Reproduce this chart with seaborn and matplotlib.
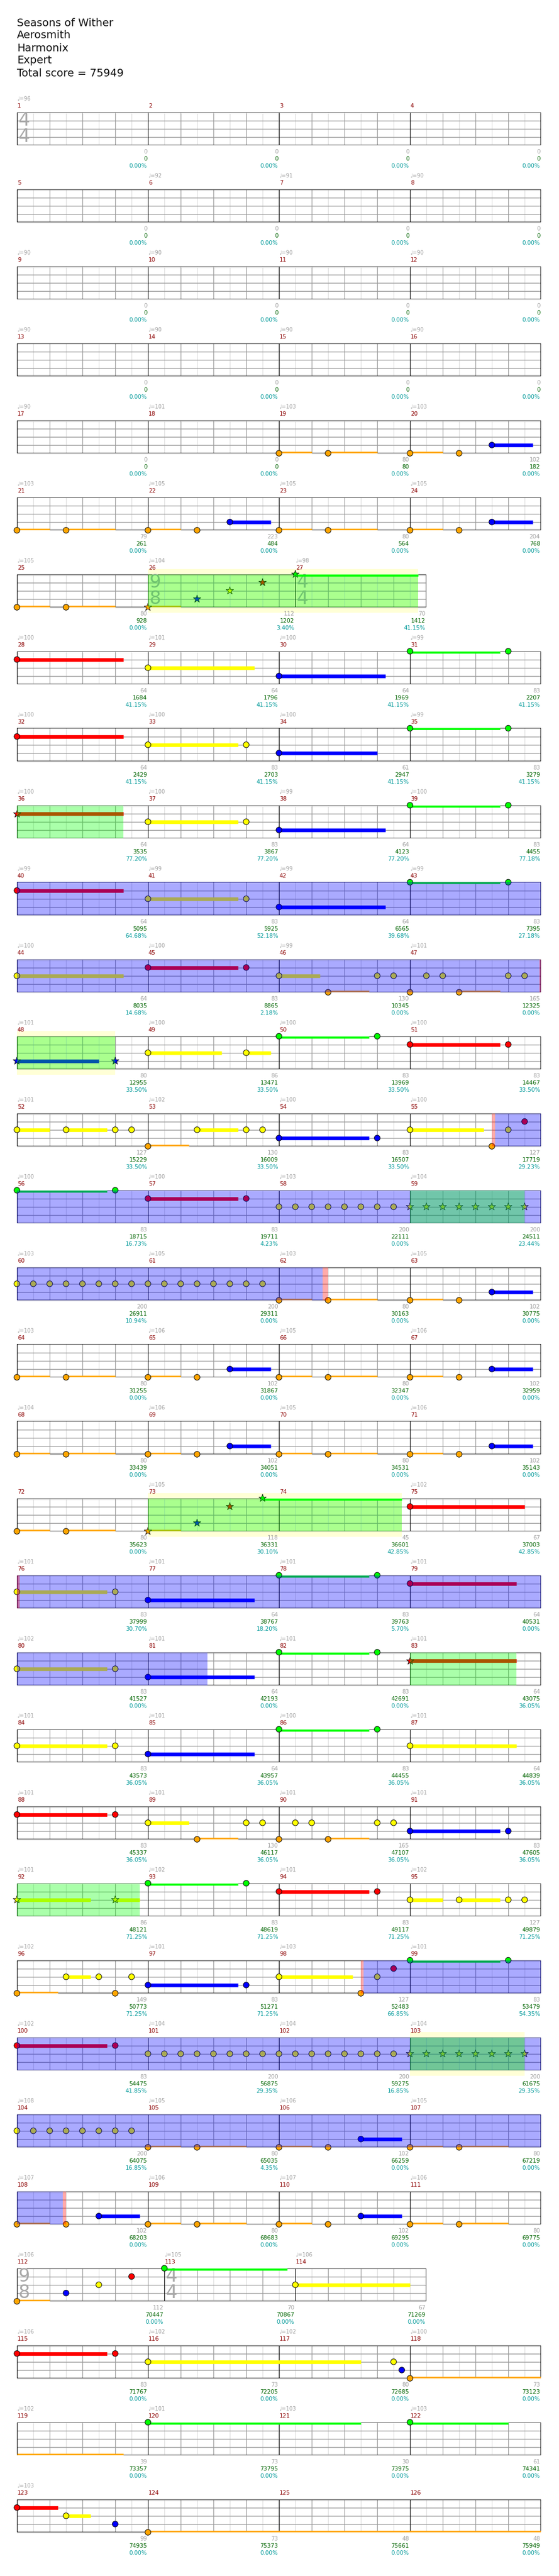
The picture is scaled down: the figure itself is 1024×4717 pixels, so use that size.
import matplotlib
matplotlib.use("Agg")
import matplotlib.pyplot as plt
import matplotlib.transforms as mtrans
from matplotlib.patches import Rectangle
import numpy as np
import pandas as pd
import seaborn as sns

sns.set_theme(style="white")
plt.rcParams["font.family"] = ["DejaVu Sans"]

# ---------------- data ----------------
title_lines = ["Seasons of Wither", "Aerosmith", "Harmonix", "Expert", "Total score = 75949"]

n_measures = 126
odd_measure_len = {26: 9, 112: 9}  # eighth notes per measure (default 8)
row_first = [1, 5, 9, 13, 17, 21, 25, 28, 32, 36, 40, 44, 48, 52, 56, 60, 64, 68, 72, 76,
             80, 84, 88, 92, 96, 100, 104, 108, 112, 115, 119, 123]
time_signatures = {1: ("4", "4"), 26: ("9", "8"), 27: ("4", "4"), 112: ("9", "8"), 113: ("4", "4")}

tempo = {1: 96, 6: 92, 7: 91, 8: 90, 9: 90, 10: 90, 11: 90, 12: 90, 13: 90, 14: 90, 15: 90, 16: 90,
         17: 90, 18: 101, 19: 103, 20: 103, 21: 103, 22: 105, 23: 105, 24: 105, 25: 105, 26: 104,
         27: 98, 28: 100, 29: 101, 30: 100, 31: 99, 32: 100, 33: 100, 34: 100, 35: 99, 36: 100,
         37: 100, 38: 99, 39: 100, 40: 99, 41: 99, 42: 99, 43: 99, 44: 100, 45: 100, 46: 99, 47: 101,
         48: 101, 49: 100, 50: 100, 51: 100, 52: 101, 53: 102, 54: 100, 55: 100, 56: 100, 57: 100,
         58: 103, 59: 104, 60: 103, 61: 105, 62: 103, 63: 105, 64: 103, 65: 106, 66: 105, 67: 106,
         68: 104, 69: 106, 70: 105, 71: 106, 73: 105, 75: 102, 76: 101, 77: 101, 78: 101, 79: 101,
         80: 102, 81: 101, 82: 101, 83: 101, 84: 101, 85: 101, 86: 100, 87: 101, 88: 101, 89: 101,
         90: 101, 91: 101, 92: 101, 93: 102, 94: 101, 95: 102, 96: 102, 97: 101, 98: 103, 99: 101,
         100: 102, 101: 104, 102: 104, 103: 104, 104: 108, 105: 105, 106: 106, 107: 105, 108: 107,
         109: 106, 110: 107, 111: 106, 112: 106, 113: 105, 114: 106, 115: 106, 116: 102, 117: 102,
         118: 100, 119: 102, 120: 101, 121: 103, 122: 103, 123: 103}

measure_score = [0, 0, 0, 0, 0, 0, 0, 0, 0, 0, 0, 0, 0, 0, 0, 0,
                 0, 0, 80, 102, 79, 223, 80, 204, 80, 112, 70,
                 64, 64, 64, 83, 64, 83, 61, 83, 64, 83, 64, 83, 64, 83, 64, 83,
                 64, 83, 130, 165, 80, 86, 83, 83, 127, 130, 83, 127, 83, 83, 200, 200,
                 200, 200, 80, 102, 80, 102, 80, 102, 80, 102, 80, 102, 80, 118, 45, 67,
                 83, 64, 83, 64, 83, 64, 83, 64, 83, 64, 83, 64, 83, 130, 165, 83,
                 86, 83, 83, 127, 149, 83, 127, 83, 83, 200, 200, 200, 200, 80, 102, 80,
                 102, 80, 102, 80, 112, 70, 67, 83, 73, 80, 73, 39, 73, 30, 61, 99, 73, 48, 48]
cumulative_score = [0, 0, 0, 0, 0, 0, 0, 0, 0, 0, 0, 0, 0, 0, 0, 0,
                    0, 0, 80, 182, 261, 484, 564, 768, 928, 1202, 1412,
                    1684, 1796, 1969, 2207, 2429, 2703, 2947, 3279, 3535, 3867, 4123, 4455,
                    5095, 5925, 6565, 7395, 8035, 8865, 10345, 12325, 12955, 13471, 13969, 14467,
                    15229, 16009, 16507, 17719, 18715, 19711, 22111, 24511, 26911, 29311, 30163, 30775,
                    31255, 31867, 32347, 32959, 33439, 34051, 34531, 35143, 35623, 36331, 36601, 37003,
                    37999, 38767, 39763, 40531, 41527, 42193, 42691, 43075, 43573, 43957, 44455, 44839,
                    45337, 46117, 47107, 47605, 48121, 48619, 49117, 49879, 50773, 51271, 52483, 53479,
                    54475, 56875, 59275, 61675, 64075, 65035, 66259, 67219, 68203, 68683, 69295, 69775,
                    70447, 70867, 71269, 71767, 72205, 72685, 73123, 73357, 73795, 73975, 74341,
                    74935, 75373, 75661, 75949]
overdrive_percent = [0.0] * 25 + [3.40, 41.15, 41.15, 41.15, 41.15, 41.15, 41.15, 41.15, 41.15, 41.15,
                     77.20, 77.20, 77.20, 77.18, 64.68, 52.18, 39.68, 27.18, 14.68, 2.18, 0.0, 0.0,
                     33.50, 33.50, 33.50, 33.50, 33.50, 33.50, 33.50, 29.23, 16.73, 4.23, 0.0, 23.44,
                     10.94, 0.0, 0.0, 0.0, 0.0, 0.0, 0.0, 0.0, 0.0, 0.0, 0.0, 0.0,
                     0.0, 30.10, 42.85, 42.85, 30.70, 18.20, 5.70, 0.0, 0.0, 0.0, 0.0, 36.05,
                     36.05, 36.05, 36.05, 36.05, 36.05, 36.05, 36.05, 36.05, 71.25, 71.25, 71.25, 71.25,
                     71.25, 71.25, 66.85, 54.35, 41.85, 29.35, 16.85, 29.35, 16.85, 4.35, 0.0, 0.0,
                     0.0, 0.0, 0.0, 0.0, 0.0, 0.0, 0.0, 0.0, 0.0, 0.0, 0.0, 0.0, 0.0, 0.0, 0.0,
                     0.0, 0.0, 0.0, 0.0]

# notes: (measure, eighth position, sustain length in eighths, star note)
green_notes = [(27, 0, 7.5, 1), (31, 0, 5.5, 0), (31, 6, 0, 0), (35, 0, 5.5, 0), (35, 6, 0, 0),
               (39, 0, 5.5, 0), (39, 6, 0, 0), (43, 0, 5.5, 0), (43, 6, 0, 0), (50, 0, 5.5, 0),
               (50, 6, 0, 0), (56, 0, 5.5, 0), (56, 6, 0, 0), (73, 7, 8.5, 1), (78, 0, 5.5, 0),
               (78, 6, 0, 0), (82, 0, 5.5, 0), (82, 6, 0, 0), (86, 0, 5.5, 0), (86, 6, 0, 0),
               (93, 0, 5.5, 0), (93, 6, 0, 0), (99, 0, 5.5, 0), (99, 6, 0, 0), (113, 0, 7.5, 0),
               (120, 0, 13, 0), (122, 0, 6, 0)]
red_notes = [(26, 7, 0, 1), (28, 0, 6.5, 0), (32, 0, 6.5, 0), (36, 0, 6.5, 1), (40, 0, 6.5, 0),
             (45, 0, 5.5, 0), (45, 6, 0, 0), (51, 0, 5.5, 0), (51, 6, 0, 0), (55, 7, 0, 0),
             (57, 0, 5.5, 0), (57, 6, 0, 0), (73, 5, 0, 1), (75, 0, 7, 0), (79, 0, 6.5, 0),
             (83, 0, 6.5, 1), (88, 0, 5.5, 0), (88, 6, 0, 0), (94, 0, 5.5, 0), (94, 6, 0, 0),
             (98, 7, 0, 0), (100, 0, 5.5, 0), (100, 6, 0, 0), (112, 7, 0, 0), (115, 0, 5.5, 0),
             (115, 6, 0, 0), (123, 0, 2.5, 0)]
yellow_notes = [(26, 5, 0, 1), (29, 0, 6.5, 0), (33, 0, 5.5, 0), (33, 6, 0, 0), (37, 0, 5.5, 0),
                (37, 6, 0, 0), (41, 0, 5.5, 0), (41, 6, 0, 0), (44, 0, 6.5, 0), (46, 0, 2.5, 0),
                (46, 6, 0, 0), (46, 7, 0, 0), (47, 1, 0, 0), (47, 2, 0, 0), (47, 6, 0, 0), (47, 7, 0, 0),
                (49, 0, 4.5, 0), (49, 6, 1.5, 0), (52, 0, 2, 0), (52, 3, 2.5, 0), (52, 6, 0, 0),
                (52, 7, 0, 0), (53, 3, 2.5, 0), (53, 6, 0, 0), (53, 7, 0, 0), (55, 0, 4.5, 0), (55, 6, 0, 0),
                (58, 0, 0, 0), (58, 1, 0, 0), (58, 2, 0, 0), (58, 3, 0, 0), (58, 4, 0, 0), (58, 5, 0, 0),
                (58, 6, 0, 0), (58, 7, 0, 0),
                (59, 0, 0, 1), (59, 1, 0, 1), (59, 2, 0, 1), (59, 3, 0, 1), (59, 4, 0, 1), (59, 5, 0, 1),
                (59, 6, 0, 1), (59, 7, 0, 1),
                (60, 0, 0, 0), (60, 1, 0, 0), (60, 2, 0, 0), (60, 3, 0, 0), (60, 4, 0, 0), (60, 5, 0, 0),
                (60, 6, 0, 0), (60, 7, 0, 0),
                (61, 0, 0, 0), (61, 1, 0, 0), (61, 2, 0, 0), (61, 3, 0, 0), (61, 4, 0, 0), (61, 5, 0, 0),
                (61, 6, 0, 0), (61, 7, 0, 0),
                (76, 0, 5.5, 0), (76, 6, 0, 0), (80, 0, 5.5, 0), (80, 6, 0, 0), (84, 0, 5.5, 0),
                (84, 6, 0, 0), (87, 0, 6.5, 0), (89, 0, 2.5, 0), (89, 6, 0, 0), (89, 7, 0, 0),
                (90, 1, 0, 0), (90, 2, 0, 0), (90, 6, 0, 0), (90, 7, 0, 0), (92, 0, 4.5, 1), (92, 6, 1.5, 1),
                (95, 0, 2, 0), (95, 3, 2.5, 0), (95, 6, 0, 0), (95, 7, 0, 0), (96, 3, 1.5, 0),
                (96, 5, 0, 0), (96, 7, 0, 0), (98, 0, 4.5, 0), (98, 6, 0, 0),
                (101, 0, 0, 0), (101, 1, 0, 0), (101, 2, 0, 0), (101, 3, 0, 0), (101, 4, 0, 0),
                (101, 5, 0, 0), (101, 6, 0, 0), (101, 7, 0, 0),
                (102, 0, 0, 0), (102, 1, 0, 0), (102, 2, 0, 0), (102, 3, 0, 0), (102, 4, 0, 0),
                (102, 5, 0, 0), (102, 6, 0, 0), (102, 7, 0, 0),
                (103, 0, 0, 1), (103, 1, 0, 1), (103, 2, 0, 1), (103, 3, 0, 1), (103, 4, 0, 1),
                (103, 5, 0, 1), (103, 6, 0, 1), (103, 7, 0, 1),
                (104, 0, 0, 0), (104, 1, 0, 0), (104, 2, 0, 0), (104, 3, 0, 0), (104, 4, 0, 0),
                (104, 5, 0, 0), (104, 6, 0, 0), (104, 7, 0, 0),
                (112, 5, 0, 0), (114, 0, 7, 0), (116, 0, 13, 0), (117, 7, 0, 0), (123, 3, 1.5, 0)]
blue_notes = [(20, 5, 2.5, 0), (22, 5, 2.5, 0), (24, 5, 2.5, 0), (26, 3, 0, 1), (30, 0, 6.5, 0),
              (34, 0, 6, 0), (38, 0, 6.5, 0), (42, 0, 6.5, 0), (48, 0, 5, 1), (48, 6, 0, 1),
              (54, 0, 5.5, 0), (54, 6, 0, 0), (63, 5, 2.5, 0), (65, 5, 2.5, 0), (67, 5, 2.5, 0),
              (69, 5, 2.5, 0), (71, 5, 2.5, 0), (73, 3, 0, 1), (77, 0, 6.5, 0), (81, 0, 6.5, 0),
              (85, 0, 6.5, 0), (91, 0, 5.5, 0), (91, 6, 0, 0), (97, 0, 5.5, 0), (97, 6, 0, 0),
              (106, 5, 2.5, 0), (108, 5, 2.5, 0), (110, 5, 2.5, 0), (112, 3, 0, 0), (117, 7.5, 0, 0),
              (123, 6, 0, 0)]
orange_notes = [(19, 0, 2, 0), (19, 3, 3, 0), (20, 0, 2, 0), (20, 3, 0, 0),
                (21, 0, 2, 0), (21, 3, 3, 0), (22, 0, 2, 0), (22, 3, 0, 0),
                (23, 0, 2, 0), (23, 3, 3, 0), (24, 0, 2, 0), (24, 3, 0, 0),
                (25, 0, 2, 0), (25, 3, 3, 0), (26, 0, 2, 1), (46, 3, 2.5, 0), (47, 0, 0, 0),
                (47, 3, 2.5, 0), (53, 0, 2.5, 0), (55, 5, 0, 0), (62, 0, 2, 0), (62, 3, 3, 0),
                (63, 0, 2, 0), (63, 3, 0, 0), (64, 0, 2, 0), (64, 3, 3, 0), (65, 0, 2, 0), (65, 3, 0, 0),
                (66, 0, 2, 0), (66, 3, 3, 0), (67, 0, 2, 0), (67, 3, 0, 0), (68, 0, 2, 0), (68, 3, 3, 0),
                (69, 0, 2, 0), (69, 3, 0, 0), (70, 0, 2, 0), (70, 3, 3, 0), (71, 0, 2, 0), (71, 3, 0, 0),
                (72, 0, 2, 0), (72, 3, 3, 0), (73, 0, 2, 1), (89, 3, 2.5, 0), (90, 0, 0, 0),
                (90, 3, 2.5, 0), (96, 0, 2.5, 0), (96, 6, 0, 0), (98, 5, 0, 0),
                (105, 0, 2, 0), (105, 3, 3, 0), (106, 0, 2, 0), (106, 3, 0, 0), (107, 0, 2, 0),
                (107, 3, 3, 0), (108, 0, 2, 0), (108, 3, 0, 0), (109, 0, 2, 0), (109, 3, 3, 0),
                (110, 0, 2, 0), (110, 3, 0, 0), (111, 0, 2, 0), (111, 3, 3, 0), (112, 0, 2, 0),
                (118, 0, 14.5, 0), (124, 0, 24, 0)]

# highlighted spans: ((measure, pos), (measure, pos))
solo_regions = [((40, 0), (48, 0)), ((55, 5.2), (62, 2.68)), ((76, 0), (81, 3.63)), ((98, 5.17), (108, 2.8))]
overdrive_regions = [((26, 0), (27, 7.5)), ((36, 0), (36, 6.5)), ((48, 0), (48, 6)), ((59, 0), (59, 7)),
                     ((73, 0), (74, 7.5)), ((83, 0), (83, 6.5)), ((92, 0), (92, 7.5)), ((103, 0), (103, 7))]
bre_regions = [((26, 0), (27, 7.5)), ((48, 0), (48, 6)), ((73, 0), (74, 7.5)), ((103, 0), (103, 7))]
activation_marks = [((47, 7.9), (47, 8.0)), ((55, 5.0), (55, 5.2)), ((62, 2.68), (62, 3.0)),
                    ((76, 0), (76, 0.17)), ((98, 5.0), (98, 5.17)), ((108, 2.8), (108, 3.0))]

# ---------------- layout ----------------
W, H = 1024, 4717
X0, EW = 31.0, 30.0          # staff left edge (px), px per eighth note
T0, SH, RS = 205.5, 60.5, 141.0  # first staff top, staff height, row step (px)
PXU = SH / 4.0               # px per lane unit

lane_names = ["orange", "blue", "yellow", "red", "green"]
lane_palette = {"green": "#00FF00", "red": "#FF0000", "yellow": "#FFFF00", "blue": "#0000FF", "orange": "#FFA500"}

mlen = [odd_measure_len.get(m, 8) for m in range(1, n_measures + 1)]
mstart = np.concatenate([[0], np.cumsum(mlen)])


def gpos(m, p):
    return mstart[m - 1] + p


rows = []
for i, f in enumerate(row_first):
    last = row_first[i + 1] - 1 if i + 1 < len(row_first) else n_measures
    rows.append((f, last))

recs = []
for lane, lst in zip([4, 3, 2, 1, 0], [green_notes, red_notes, yellow_notes, blue_notes, orange_notes]):
    for (m, p, s, st) in lst:
        recs.append(dict(measure=m, pos=p, lane=lane, lane_name=lane_names[lane], sus=s, star=st))
notes = pd.DataFrame(recs)
notes["g"] = [gpos(m, p) for m, p in zip(notes.measure, notes.pos)]

fig = plt.figure(figsize=(W / 100, H / 100), dpi=100)
fig.patch.set_facecolor("white")

for k, line in enumerate(title_lines):
    fig.text(X0 / W, 1 - (42 + 23 * k) / H, line, fontsize=14, color="#111111", ha="left", va="center")

GRAY, DARK_RED, DGREEN, TEAL = "#a0a0a0", "#8b0000", "#006400", "#009999"


def spans(regs, g0, g1):
    out = []
    for (a, b) in regs:
        xa, xb = gpos(*a), gpos(*b)
        lo, hi = max(xa, g0), min(xb, g1)
        if hi > lo:
            out.append((lo, hi))
    return out


for i, (f, l) in enumerate(rows):
    T = T0 + i * RS
    B = T + SH
    g0, g1 = mstart[f - 1], mstart[l]
    n = g1 - g0
    ax = fig.add_axes([X0 / W, 1 - B / H, n * EW / W, SH / H])
    ax.axis("off")
    blend = mtrans.blended_transform_factory(ax.transData, fig.transFigure)

    # big rock ending backgrounds
    for lo, hi in spans(bre_regions, g0, g1):
        ax.add_patch(Rectangle((lo, -10 / PXU), hi - lo, 4 + 20 / PXU, facecolor="#FFFFD6",
                               lw=0, zorder=0, clip_on=False))
    # vertical grid
    for m in range(f, l + 1):
        for k in range(mlen[m - 1]):
            x = mstart[m - 1] + k
            if k == 0:
                ax.plot([x, x], [0, 4], color="black", lw=0.8, zorder=1.2)
            elif k % 2 == 0:
                ax.plot([x, x], [0, 4], color="#9a9a9a", lw=0.9, zorder=1.1)
            else:
                ax.plot([x, x], [0, 4], color="#dedede", lw=0.9, zorder=1.0)
    for y in (1, 2, 3):
        ax.plot([g0, g1], [y, y], color="#9a9a9a", lw=1.0, zorder=1.1)
    ax.plot([g0, g1, g1, g0, g0], [0, 0, 4, 4, 0], color="black", lw=1.2, zorder=1.3)

    # time signatures
    for m in range(f, l + 1):
        if m in time_signatures:
            a, b = time_signatures[m]
            xs = mstart[m - 1] + 13 / EW
            ax.text(xs, 3.0, a, fontsize=24, color="#a8a8a8", ha="center", va="center", zorder=1.5)
            ax.text(xs, 1.0, b, fontsize=24, color="#a8a8a8", ha="center", va="center", zorder=1.5)

    # sustains (split by row)
    for _, r in notes[notes.sus > 0].iterrows():
        lo, hi = max(r.g, g0), min(r.g + r.sus, g1)
        if hi > lo:
            ax.hlines(r.lane, lo, hi, colors=lane_palette[r.lane_name], lw=4.8, zorder=2,
                      capstyle="butt")

    sub = notes[(notes.g >= g0) & (notes.g < g1)]
    circ = sub[sub.star == 0]
    star = sub[sub.star == 1]
    if len(circ):
        sns.scatterplot(data=circ, x="g", y="lane", hue="lane_name", palette=lane_palette, s=58,
                        marker="o", edgecolor="black", linewidth=0.7, legend=False, ax=ax,
                        zorder=3, clip_on=False)
    if len(star):
        sns.scatterplot(data=star, x="g", y="lane", hue="lane_name", palette=lane_palette, s=110,
                        marker="*", edgecolor="black", linewidth=0.6, legend=False, ax=ax,
                        zorder=3, clip_on=False)

    # overlays
    for lo, hi in spans(solo_regions, g0, g1):
        ax.add_patch(Rectangle((lo, 0), hi - lo, 4, facecolor="#0000FF", alpha=1 / 3, lw=0, zorder=4))
    for lo, hi in spans(overdrive_regions, g0, g1):
        ax.add_patch(Rectangle((lo, 0), hi - lo, 4, facecolor="#00FF00", alpha=1 / 3, lw=0, zorder=4))
    for lo, hi in spans(activation_marks, g0, g1):
        ax.add_patch(Rectangle((lo, 0), hi - lo, 4, facecolor="#FF0000", alpha=1 / 3, lw=0, zorder=4))

    # labels
    for m in range(f, l + 1):
        xs = mstart[m - 1]
        xe = mstart[m]
        if m in tempo:
            ax.text(xs, 1 - (T - 24.5) / H, "\u2669=%d" % tempo[m], transform=blend, fontsize=7,
                    color=GRAY, ha="left", va="center")
        ax.text(xs + 0.03, 1 - (T - 11.5) / H, str(m), transform=blend, fontsize=7.5,
                color=DARK_RED, ha="left", va="center")
        xr = xe - 0.05
        ax.text(xr, 1 - (B + 12) / H, str(measure_score[m - 1]), transform=blend, fontsize=7.5,
                color=GRAY, ha="right", va="center")
        ax.text(xr, 1 - (B + 25) / H, str(cumulative_score[m - 1]), transform=blend, fontsize=7.5,
                color=DGREEN, ha="right", va="center")
        ax.text(xr, 1 - (B + 38) / H, "%.2f%%" % overdrive_percent[m - 1], transform=blend,
                fontsize=7.5, color=TEAL, ha="right", va="center")

    ax.set_xlim(g0, g1)
    ax.set_ylim(0, 4)

fig.savefig("out.png", dpi=100, facecolor="white")
